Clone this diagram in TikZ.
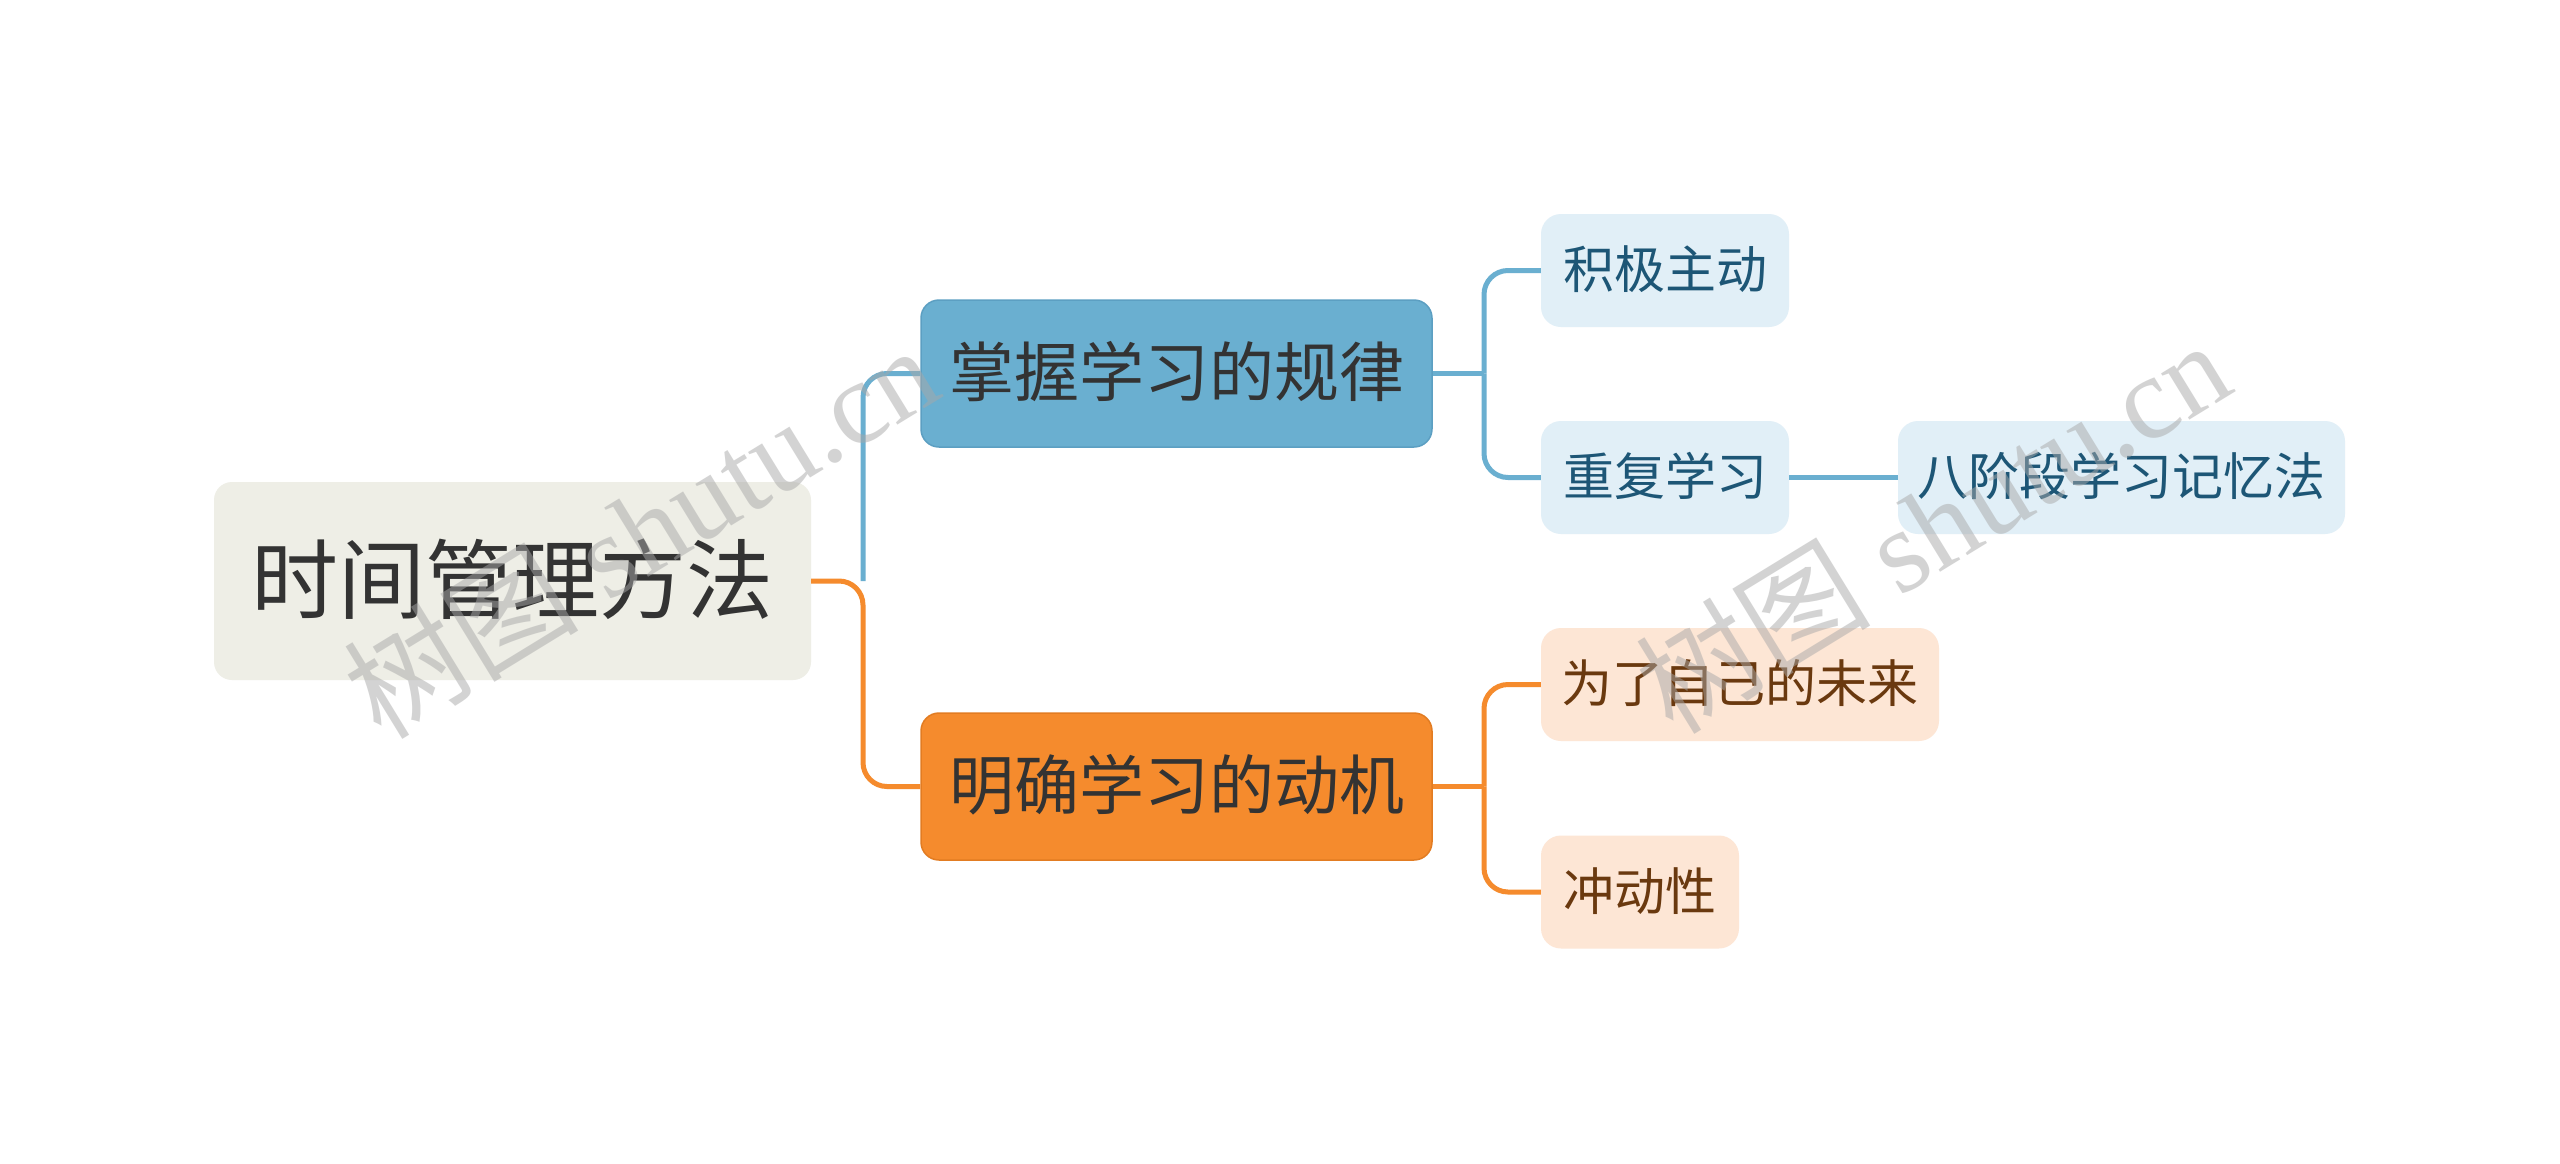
\documentclass[tikz,border=0pt]{standalone}
\usepackage{fontspec}
\newfontfamily\cjk{Noto Sans CJK SC}
\newfontfamily\wmlat{Liberation Serif}
\definecolor{rootfill}{HTML}{EEEEE6}
\definecolor{roottext}{HTML}{333333}
\definecolor{bluemain}{HTML}{6AAFD0}
\definecolor{blueborder}{HTML}{5C9FC2}
\definecolor{orangemain}{HTML}{F58B2D}
\definecolor{orangeborder}{HTML}{E27C22}
\definecolor{bluelight}{HTML}{E1EFF7}
\definecolor{bluetext}{HTML}{1D5676}
\definecolor{orangelight}{HTML}{FDE6D5}
\definecolor{orangetext}{HTML}{6A390F}
\definecolor{wmgray}{HTML}{A8A8A8}
\tikzset{
  box/.style={rectangle, rounded corners=18pt, inner sep=0pt, align=center},
  rootbox/.style={box, fill=rootfill, text=roottext, minimum width=597pt, minimum height=198pt,
    font=\cjk\fontsize{87}{100}\selectfont, text height=74.8pt, text depth=12.2pt},
  mainblue/.style={box, fill=bluemain, draw=blueborder, line width=1.5pt, text=roottext,
    minimum width=511pt, minimum height=147pt, font=\cjk\fontsize{65}{78}\selectfont,
    text height=55.9pt, text depth=9.1pt},
  mainorange/.style={box, fill=orangemain, draw=orangeborder, line width=1.5pt, text=roottext,
    minimum width=511pt, minimum height=147pt, font=\cjk\fontsize{65}{78}\selectfont,
    text height=55.9pt, text depth=9.1pt},
  subblue/.style={box, rounded corners=20pt, fill=bluelight, text=bluetext,
    minimum height=113pt, font=\cjk\fontsize{51}{62}\selectfont, text height=43.9pt, text depth=7.1pt},
  suborange/.style={box, rounded corners=20pt, fill=orangelight, text=orangetext,
    minimum height=113pt, font=\cjk\fontsize{51}{62}\selectfont, text height=43.9pt, text depth=7.1pt},
  blueline/.style={draw=bluemain, line width=5pt, rounded corners=24pt},
  orangeline/.style={draw=orangemain, line width=5pt, rounded corners=24pt},
  watermark/.style={text=wmgray, opacity=0.5, rotate=31.5, font=\fontsize{118}{130}\selectfont, inner sep=0pt}
}
\begin{document}
\begin{tikzpicture}[x=1pt,y=-1pt]
\useasboundingbox[fill=white] (0,0) rectangle (2560,1163);
% nodes
\node[rootbox] (root) at (512.5,581) {时间管理方法};
\node[mainblue] (rule) at (1176.5,373.5) {掌握学习的规律};
\node[mainorange] (motive) at (1176.5,786.5) {明确学习的动机};
\node[subblue, minimum width=248pt] (active) at (1665,270.5) {积极主动};
\node[subblue, minimum width=248pt] (repeat) at (1665,477.5) {重复学习};
\node[subblue, minimum width=447pt] (eight) at (2121.5,477.5) {八阶段学习记忆法};
\node[suborange, minimum width=398pt] (future) at (1740,684.5) {为了自己的未来};
\node[suborange, minimum width=198pt] (impulse) at (1640,892) {冲动性};
% bus points
\coordinate (rb) at (863,581);
\coordinate (bb) at (1484,373.5);
\coordinate (ob) at (1484,786.5);
% connectors
\draw[blueline] (rb) |- (rule.west);
\draw[orangeline] (root.east) -- (rb) |- (motive.west);
\draw[blueline] (rule.east) -- (bb);
\draw[blueline] (bb) |- (active.west);
\draw[blueline] (bb) |- (repeat.west);
\draw[blueline, rounded corners=0pt] (repeat.east) -- (eight.west);
\draw[orangeline] (motive.east) -- (ob);
\draw[orangeline] (ob) |- (future.west);
\draw[orangeline] (ob) |- (impulse.west);
% watermarks
\node[watermark] (wm1) at (640,530) {\cjk 树图\wmlat{} shutu.cn};
\node[watermark] (wm2) at (1932,525) {\cjk 树图\wmlat{} shutu.cn};
\end{tikzpicture}
\end{document}
